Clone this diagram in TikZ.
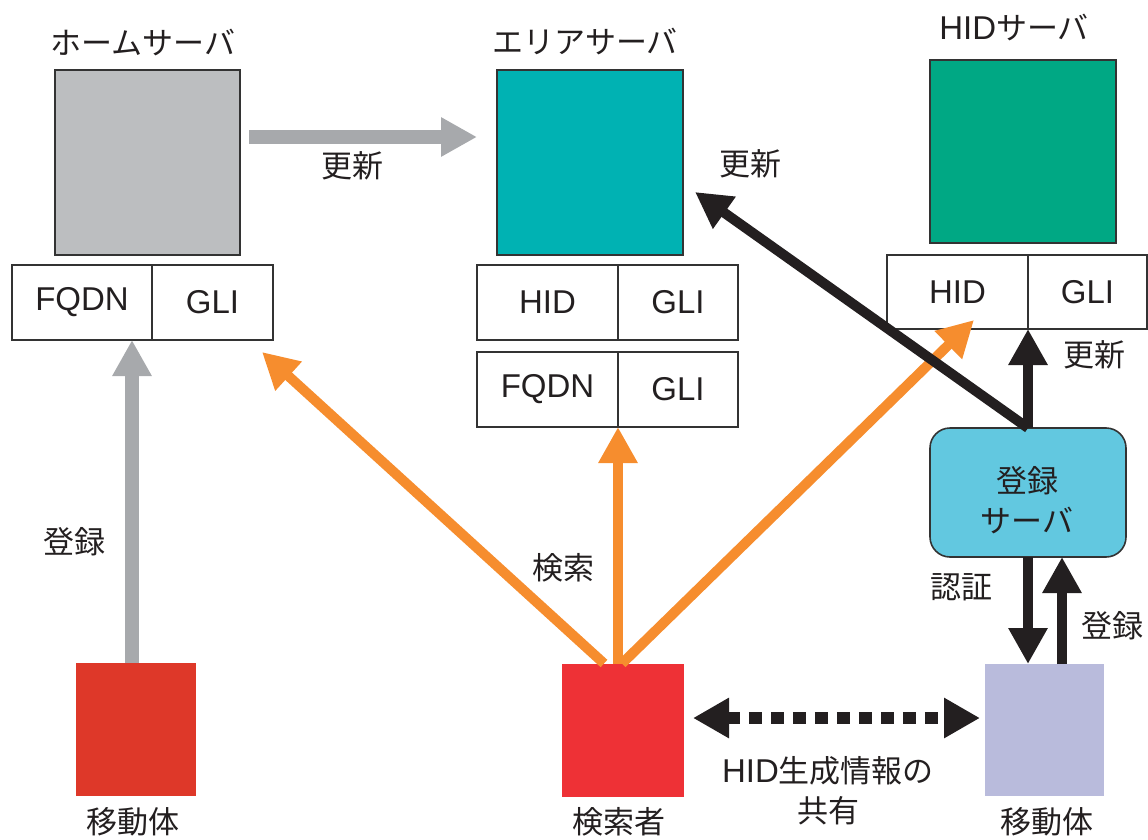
\documentclass[tikz,border=0pt]{standalone}
\usepackage{fontspec}
\setmainfont{Liberation Sans}
\newfontfamily\jp{Noto Sans CJK JP}
\usetikzlibrary{arrows.meta}

\definecolor{ink}{HTML}{231F20}
\definecolor{boxline}{HTML}{333333}
\definecolor{homefill}{HTML}{BCBEC0}
\definecolor{areafill}{HTML}{00B2B3}
\definecolor{hidfill}{HTML}{00A884}
\definecolor{regfill}{HTML}{62C8E0}
\definecolor{mobfillA}{HTML}{DE3829}
\definecolor{seekfill}{HTML}{EE3136}
\definecolor{mobfillB}{HTML}{B9BBDC}
\definecolor{searchline}{HTML}{F68D2E}
\definecolor{updline}{HTML}{A7A9AC}

\tikzset{
  lat/.style={font=\fontsize{33}{38}\selectfont, text=ink},
  jlab/.style={font=\jp\fontsize{31}{40}\selectfont, text=ink, inner sep=0pt},
  server/.style={draw=boxline, line width=1.6pt, inner sep=0pt, outer sep=0pt},
  cell/.style={draw=boxline, line width=1.3pt, minimum height=75pt, inner sep=0pt, outer sep=0pt, lat},
  device/.style={inner sep=0pt, outer sep=0pt, minimum width=120pt, minimum height=133pt},
  tip/.style={-{Triangle[length=36pt,width=37pt]}},
  grayarrow/.style={tip, draw=updline, line width=14pt},
  orangearrow/.style={tip, draw=searchline, line width=10pt},
  blackarrow/.style={tip, draw=ink, line width=10pt},
}

\begin{document}
\begin{tikzpicture}[x=1pt,y=-1pt]
\useasboundingbox (0,0) rectangle (1148,840);

% servers
\node[server, fill=homefill, minimum width=185pt, minimum height=185pt] (home) at (147.5,162.5) {};
\node[server, fill=areafill, minimum width=186pt, minimum height=185pt] (area) at (590,162.5) {};
\node[server, fill=hidfill, minimum width=186pt, minimum height=183pt] (hid) at (1023,151.5) {};

\node[jlab] (homelab) at (143,43) {ホームサーバ};
\node[jlab] (arealab) at (585,42) {エリアサーバ};
\node[jlab] (hidlab) at (1014,28) {{\fontspec{Liberation Sans}\fontsize{33}{38}\selectfont HID}サーバ};

% address tables
\node[cell, minimum width=140pt] (hfq) at (82,302.5) {FQDN};
\node[cell, minimum width=121pt] (hgl) at (212.5,302.5) {GLI};

\node[cell, minimum width=141pt] (ahid) at (547.5,302.5) {HID};
\node[cell, minimum width=120pt] (agl) at (678,302.5) {GLI};
\node[cell, minimum width=141pt] (afq) at (547.5,389.5) {FQDN};
\node[cell, minimum width=120pt] (agl2) at (678,389.5) {GLI};

\node[cell, minimum width=141pt, minimum height=74pt] (xhid) at (957.5,292) {HID};
\node[cell, minimum width=119pt, minimum height=74pt] (xgl) at (1087.5,292) {GLI};

% registration server
\node[draw=boxline, line width=1.6pt, fill=regfill, rounded corners=20pt,
      minimum width=196pt, minimum height=129pt, inner sep=0pt, outer sep=0pt] (reg) at (1028,492.5) {};
\node[jlab, align=center] (reglab) at (1027,500) {登録\\サーバ};

% terminals
\node[device, fill=mobfillA] (lm) at (136,729.5) {};
\node[device, fill=seekfill, minimum width=122pt] (seek) at (623,730) {};
\node[device, fill=mobfillB, minimum width=119pt, minimum height=132pt] (rm) at (1044.5,730) {};

\node[jlab] (lmlab) at (133,822) {移動体};
\node[jlab] (seeklab) at (619,822) {検索者};
\node[jlab] (rmlab) at (1047,822) {移動体};

% update: home server -> area server
\coordinate (gy) at (360,137);
\draw[grayarrow, shorten <=9pt, shorten >=20pt] (home.east |- gy) -- (area.west |- gy);
\node[jlab] (upd1) at (352,166) {更新};

% registration of the left terminal
\coordinate (lmtop) at ([xshift=-4pt]lm.north);
\draw[grayarrow] (lmtop) -- (lmtop |- hfq.south);
\node[jlab] (reg1) at (74,542) {登録};

% searches
\coordinate (tipHome) at (262,352);
\coordinate (tipHid) at (974,320);
\draw[orangearrow] ([xshift=-19pt]seek.north) -- (tipHome);
\draw[orangearrow] (afq.south east |- seek.north) -- (afq.south east);
\draw[orangearrow] ([xshift=-1pt]seek.north) -- (tipHid);
\node[jlab] (srch) at (563,568) {検索};

% updates from the registration server
\coordinate (tipArea) at (695,192);
\draw[blackarrow] (reg.north) -- (tipArea);
\node[jlab] (upd2) at (750,164) {更新};
\draw[blackarrow] (reg.north) -- (xhid.south east);
\node[jlab] (upd3) at (1094,355) {更新};

% authentication and registration of the right terminal
\draw[blackarrow] (reg.south) -- (reg.south |- rm.north);
\node[jlab] (auth) at (961,587) {認証};
\coordinate (upx) at ([xshift=34pt]reg.south);
\draw[blackarrow] (upx |- rm.north) -- (upx);
\node[jlab] (reg2) at (1112,626) {登録};

% shared HID generation information
\coordinate (dy) at (830,718);
\draw[draw=ink, line width=12pt, dash pattern=on 13pt off 9pt,
      {Triangle[length=36pt,width=38pt]}-{Triangle[length=36pt,width=38pt]},
      shorten <=9pt, shorten >=5pt] (seek.east |- dy) -- (rm.west |- dy);
\node[jlab, align=center] (share) at (828,791) {{\fontspec{Liberation Sans}\fontsize{33}{38}\selectfont HID}生成情報の\\共有};
\end{tikzpicture}
\end{document}
